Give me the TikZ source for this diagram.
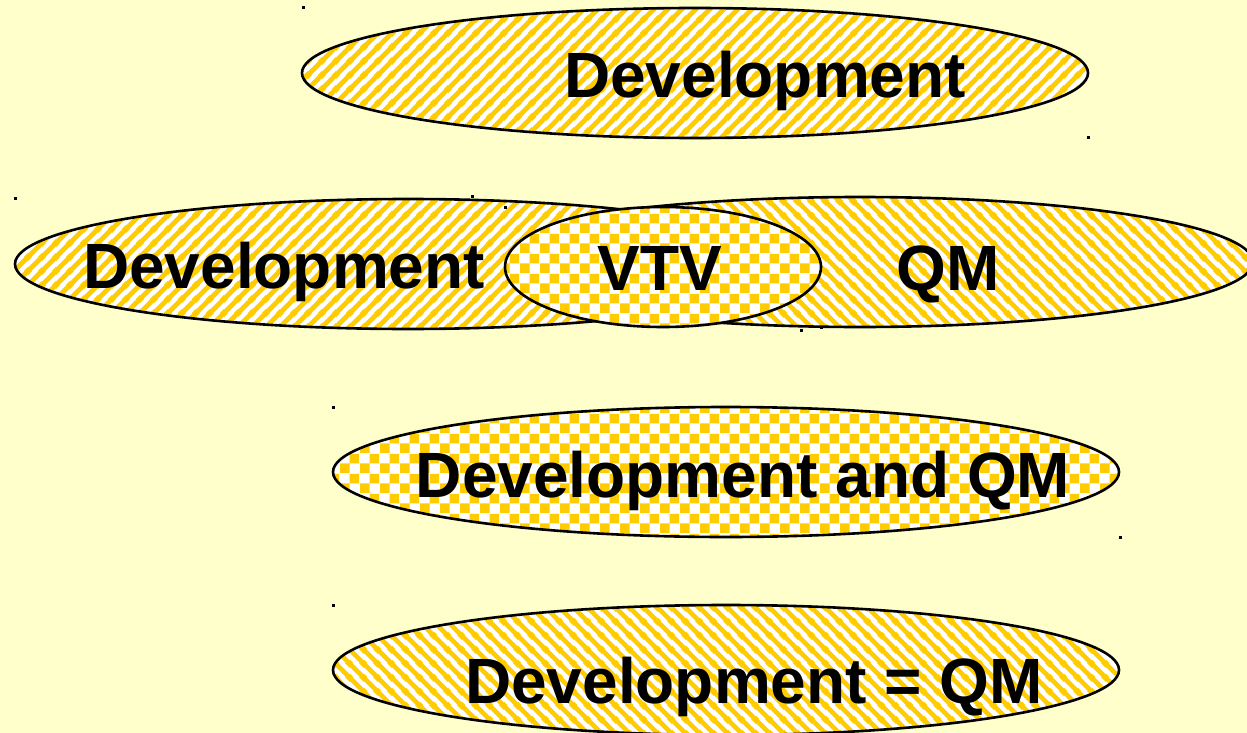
\documentclass[tikz,border=0pt]{standalone}
\usepackage{fontspec}
\setmainfont{Liberation Sans}
\usetikzlibrary{shapes,
	patterns}
\definecolor{paper}{HTML}{FFFFCC}
\definecolor{gold}{HTML}{FFCC00}
% hatchings and checker fill
\pgfdeclarepatternformonly{hatchup}{\pgfqpoint{0pt}{0pt}}{\pgfqpoint{14pt}{14pt}}{\pgfqpoint{14pt}{14pt}}{
	\pgfsetlinewidth{5pt}
	\pgfpathmoveto{\pgfqpoint{-2pt}{-2pt}}\pgfpathlineto{\pgfqpoint{16pt}{16pt}}
	\pgfpathmoveto{\pgfqpoint{-3pt}{11pt}}\pgfpathlineto{\pgfqpoint{3pt}{17pt}}
	\pgfpathmoveto{\pgfqpoint{11pt}{-3pt}}\pgfpathlineto{\pgfqpoint{17pt}{3pt}}
	\pgfusepath{stroke}}
\pgfdeclarepatternformonly{hatchdown}{\pgfqpoint{0pt}{0pt}}{\pgfqpoint{14pt}{14pt}}{\pgfqpoint{14pt}{14pt}}{
	\pgfsetlinewidth{5pt}
	\pgfpathmoveto{\pgfqpoint{-2pt}{16pt}}\pgfpathlineto{\pgfqpoint{16pt}{-2pt}}
	\pgfpathmoveto{\pgfqpoint{-3pt}{3pt}}\pgfpathlineto{\pgfqpoint{3pt}{-3pt}}
	\pgfpathmoveto{\pgfqpoint{11pt}{17pt}}\pgfpathlineto{\pgfqpoint{17pt}{11pt}}
	\pgfusepath{stroke}}
\pgfdeclarepatternformonly{checker}{\pgfqpoint{0pt}{0pt}}{\pgfqpoint{20pt}{20pt}}{\pgfqpoint{20pt}{20pt}}{
	\pgfpathrectangle{\pgfqpoint{0pt}{0pt}}{\pgfqpoint{10pt}{10pt}}
	\pgfpathrectangle{\pgfqpoint{10pt}{10pt}}{\pgfqpoint{10pt}{10pt}}
	\pgfusepath{fill}}
\tikzstyle{oval}=[ellipse, draw, line width=2.6pt, inner sep=0, minimum width=786pt,
		minimum height=130pt, preaction={fill=white}, pattern color=gold]
\tikzstyle{up}=[pattern=hatchup]
\tikzstyle{down}=[pattern=hatchdown]
\tikzstyle{chk}=[pattern=checker]
\tikzstyle{lbl}=[anchor=base, inner sep=0, font=\fontsize{64}{64}\selectfont\bfseries]

\begin{document}
\begin{tikzpicture}[x=1pt, y=-1pt]
	\fill[paper] (0,0) rectangle (1247,733);
	\useasboundingbox (0,0) rectangle (1247,733);

	\node[oval, up] (devtop) at (695,73) {};
	\node[oval, down] (qm) at (860,262) {};
	\node[oval, up] (devleft) at (408,264) {};
	\node[oval, chk, minimum width=316pt, minimum height=120pt] (vtv) at (663,267) {};
	\node[oval, chk] (devqm) at (726,472) {};
	\node[oval, down] (deveq) at (726,670) {};

	\node[lbl] (tdevtop) at (765,98) {Development};
	\node[lbl] (tdevleft) at (284,288) {Development};
	\node[lbl] (tvtv) at (660,290) {VTV};
	\node[lbl] (tqm) at (948,290) {QM};
	\node[lbl] (tdevqm) at (743,497) {Development and QM};
	\node[lbl] (tdeveq) at (754,703) {Development = QM};

	% leftover selection handles
	\foreach \p in {(303,8), (1088,138), (15,198), (472,196), (505,207),
			(801,330), (821,327), (333,407), (1120,537), (333,605)}
		\fill[black] \p ++(-1.5,-1.5) rectangle ++(3,3);
\end{tikzpicture}
\end{document}
